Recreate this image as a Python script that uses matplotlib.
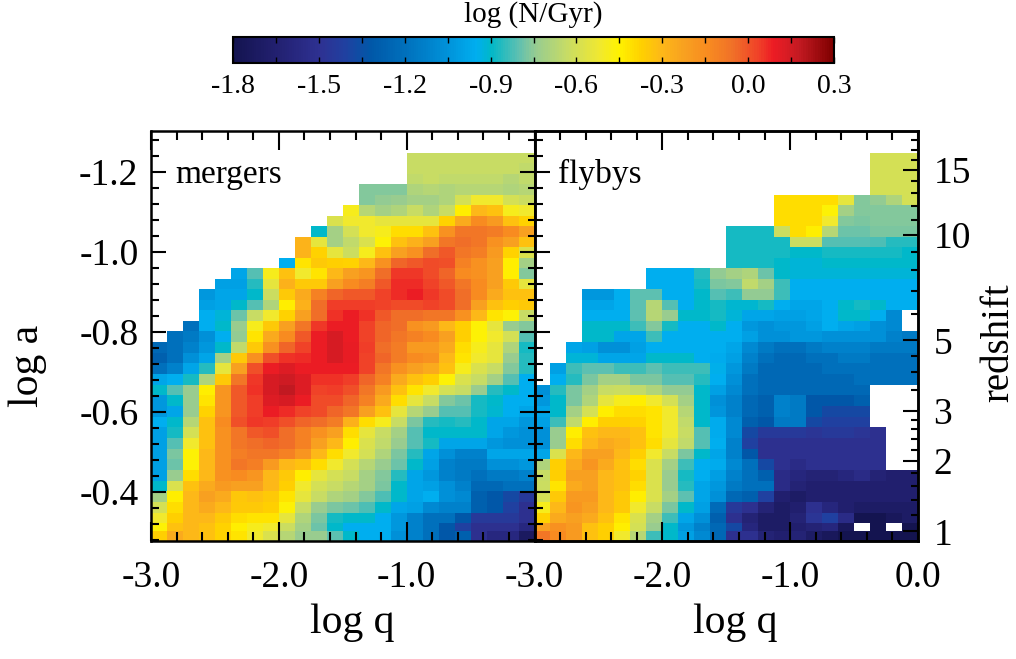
import numpy as np
import matplotlib
matplotlib.use("Agg")
import matplotlib.pyplot as plt
from matplotlib.colors import LinearSegmentedColormap
from matplotlib.ticker import MultipleLocator, FixedLocator, FormatStrFormatter

plt.rcParams['font.family'] = ['Liberation Serif', 'DejaVu Serif']
plt.rcParams['axes.unicode_minus'] = False

n = np.nan

# ---------------- data ----------------
q_edges = np.linspace(-3.0, 0.0, 25)          # log q bins (0.125 dex)
a_edges = [-1.2475, -1.2212, -1.1950, -1.1687, -1.1425, -1.1162, -1.0900, -1.0637,
           -1.0374, -1.0112, -0.9849, -0.9587, -0.9324, -0.9062, -0.8799, -0.8536,
           -0.8274, -0.8011, -0.7744, -0.7478, -0.7211, -0.6944, -0.6678, -0.6411,
           -0.6144, -0.5878, -0.5611, -0.5344, -0.5078, -0.4811, -0.4544, -0.4278,
           -0.4011, -0.3744, -0.3478, -0.3211, -0.3010, -0.2700]   # log a bins

# log(N/Gyr), rows from top (high z) to bottom (low z), columns log q = -3 .. 0
mergers = [
    [n]*16 + [-.63]*8,
    [n]*16 + [-.63, -.63, -.63, -.63, -.63, -.63, -.63, -.65],
    [n]*16 + [-.65, -.63, -.65, -.65, -.65, -.65, -.67, -.65],
    [n]*13 + [-.76, -.76, -.76, -.69, -.67, -.69, -.67, -.67, -.67, -.69, -.67],
    [n]*13 + [-.76, -.745, -.74, -.71, -.71, -.69, -.60, -.52, -.52, -.60, -.62],
    [n]*12 + [-.49, -.67, -.71, -.69, -.63, -.69, -.63, -.44, -.30, -.33, -.49, -.52],
    [n]*11 + [-.58, -.52, -.52, -.55, -.55, -.55, -.55, -.38, -.25, -.14, -.20, -.33, -.38],
    [n]*10 + [-.90, -.71, -.60, -.52, -.49, -.40, -.40, -.33, -.16, -.07, -.07, -.09, -.14, -.22],
    [n]*9 + [-.29, -.55, -.71, -.65, -.58, -.46, -.33, -.28, -.22, -.07, -.05, -.07, -.16, -.22, -.33],
    [n]*9 + [-.29, -.38, -.55, -.62, -.49, -.33, -.22, -.16, -.05, -.01, -.07, -.10, -.20, -.38, -.58],
    [n]*8 + [-.95, -.42, -.35, -.37, -.38, -.30, -.16, -.03, -.01, .02, .01, -.11, -.16, -.22, -.44, -.71],
    [n]*5 + [-.98, -.81, -.49, -.33, -.52, -.42, -.30, -.22, -.18, -.05, .05, .05, .02, -.03, -.14, -.16, -.22, -.44, -.76],
    [n]*4 + [-1.00, -1.00, -.86, -.55, -.28, -.35, -.35, -.22, -.14, -.10, -.01, .07, .07, .03, -.01, -.07, -.14, -.22, -.35, -.55],
    [n]*3 + [-1.03, -.98, -.98, -.90, -.62, -.35, -.25, -.11, -.03, -.01, -.01, .03, .07, .09, .05, .02, -.05, -.14, -.25, -.33, -.33],
    [n]*3 + [-1.00, -.98, -.90, -.81, -.69, -.44, -.28, -.05, .04, .04, .04, .03, .02, .02, .03, .02, -.05, -.22, -.33, -.37, -.35],
    [n]*3 + [-.95, -.92, -.79, -.63, -.52, -.38, -.22, -.05, .06, .09, .06, -.01, -.05, -.05, -.07, -.07, -.16, -.30, -.42, -.46, -.63],
    [n]*2 + [-1.20, -.95, -.90, -.74, -.49, -.35, -.22, -.07, .05, .09, .09, .03, -.03, -.05, -.16, -.20, -.30, -.37, -.46, -.55, -.74, -.76],
    [n] + [-1.20, -1.16, -1.06, -.95, -.745, -.42, -.25, -.14, -.01, .09, .14, .09, .03, -.03, -.07, -.11, -.14, -.22, -.37, -.46, -.52, -.60, -.81],
    [-1.24, -1.20, -1.12, -1.03, -.90, -.65, -.35, -.16, -.03, .03, .09, .14, .10, .04, -.05, -.09, -.20, -.20, -.25, -.40, -.49, -.55, -.69, -.88],
    [-1.28, -1.20, -1.06, -.98, -.71, -.35, -.16, .01, .06, .07, .09, .14, .10, .03, -.03, -.09, -.14, -.16, -.30, -.42, -.52, -.55, -.74, -.86],
    [-1.20, -1.12, -.98, -.86, -.55, -.22, .01, .09, .12, .09, .09, .09, .09, .03, -.07, -.16, -.22, -.25, -.33, -.49, -.58, -.63, -.76, -.86],
    [-.98, -.95, -.88, -.69, -.35, -.07, .05, .14, .16, .12, .06, .06, .04, -.03, -.11, -.25, -.33, -.37, -.46, -.58, -.63, -.71, -.81, -.95],
    [-.90, -.81, -.74, -.44, -.18, -.01, .06, .14, .18, .12, .03, .04, .01, -.07, -.20, -.33, -.42, -.52, -.60, -.63, -.74, -.86, -.90, -.95],
    [-1.03, -.90, -.74, -.42, -.18, -.01, .04, .12, .14, .09, .02, .02, -.03, -.11, -.25, -.40, -.55, -.63, -.76, -.79, -.88, -.90, -.95, -.95],
    [-1.03, -.98, -.74, -.38, -.18, -.01, .04, .09, .07, .03, .02, -.03, -.07, -.22, -.33, -.55, -.67, -.74, -.81, -.81, -.88, -.91, -.95, -.98],
    [-.95, -.90, -.67, -.33, -.14, .01, .05, .04, .01, -.03, -.05, -.09, -.28, -.40, -.49, -.63, -.77, -.86, -.88, -.86, -.90, -.98, -.98, -1.03],
    [-1.00, -.88, -.60, -.33, -.16, -.07, -.01, .01, -.05, -.11, -.16, -.22, -.40, -.55, -.63, -.71, -.81, -.90, -.90, -.90, -.90, -.98, -1.03, -1.06],
    [-1.00, -.81, -.52, -.33, -.16, -.07, -.05, -.03, -.05, -.11, -.22, -.30, -.44, -.58, -.65, -.74, -.81, -.88, -.98, -.98, -.98, -1.03, -1.06, -1.06],
    [-1.00, -.77, -.46, -.30, -.16, -.10, -.07, -.07, -.11, -.18, -.30, -.40, -.52, -.60, -.69, -.77, -.86, -.98, -1.06, -1.12, -1.12, -.98, -.98, -.98],
    [-1.00, -.79, -.46, -.30, -.16, -.07, -.10, -.20, -.30, -.33, -.40, -.52, -.60, -.67, -.74, -.79, -.90, -1.00, -1.12, -1.16, -1.16, -1.06, -1.06, -1.03],
    [-1.00, -.74, -.40, -.30, -.16, -.14, -.18, -.30, -.35, -.44, -.55, -.60, -.63, -.71, -.76, -.86, -.98, -1.03, -1.12, -1.16, -1.20, -1.16, -1.16, -1.12],
    [-.90, -.58, -.33, -.25, -.20, -.22, -.22, -.30, -.37, -.52, -.60, -.63, -.67, -.71, -.77, -.90, -.98, -1.00, -1.06, -1.12, -1.24, -1.24, -1.20, -1.20],
    [-.71, -.44, -.30, -.22, -.25, -.34, -.33, -.35, -.42, -.55, -.63, -.69, -.71, -.76, -.82, -.90, -.98, -.95, -1.06, -1.09, -1.28, -1.32, -1.38, -1.45],
    [-.60, -.40, -.30, -.25, -.30, -.35, -.35, -.37, -.46, -.63, -.74, -.77, -.79, -.82, -.90, -.98, -1.00, -1.09, -1.12, -1.12, -1.28, -1.32, -1.41, -1.51],
    [-.52, -.37, -.30, -.30, -.35, -.40, -.42, -.42, -.55, -.69, -.77, -.88, -.90, -.90, -.95, -1.03, -1.12, -1.20, -1.20, -1.32, -1.45, -1.45, -1.45, -1.51],
    [-.46, -.33, -.30, -.33, -.38, -.44, -.49, -.52, -.62, -.71, -.79, -.90, -.95, -.95, -.95, -1.03, -1.12, -1.20, -1.32, -1.41, -1.51, -1.51, -1.51, -1.58],
    [-.37, -.25, -.30, -.33, -.38, -.42, -.52, -.58, -.67, -.74, -.74, -.80, -.90, -.95, -.95, -1.06, -1.12, -1.20, -1.32, -1.28, -1.51, -1.58, -1.58, -1.72],
]

flybys = [
    [n]*21 + [-.60]*3,
    [n]*21 + [-.60]*3,
    [n]*21 + [-.60]*3,
    [n]*21 + [-.60]*3,
    [n]*15 + [-.40, -.40, -.40, -.40, -.55, -.76, -.745, -.69, -.60],
    [n]*15 + [-.40, -.40, -.40, -.46, -.71, -.76, -.76, -.76, -.76],
    [n]*15 + [-.40, -.40, -.40, -.52, -.76, -.77, -.76, -.76, -.76],
    [n]*12 + [-.88, -.88, -.88, -.62, -.40, -.44, -.67, -.79, -.79, -.77, -.77, -.77],
    [n]*12 + [-.88, -.88, -.88, -.88, -.62, -.62, -.81, -.81, -.81, -.82, -.86, -.86],
    [n]*12 + [-.88, -.88, -.88, -.88, -.90, -.90, -.88, -.88, -.88, -.88, -.88, -.90],
    [n]*12 + [-.88, -.88, -.88, -.90, -.92, -.92, -.90, -.90, -.90, -.90, -.90, -.90],
    [n]*7 + [-.95, -.95, -.95, -.86, -.75, -.71, -.69, -.79, -.90, -.92, -.92, -.92, -.92, -.92, -.92, -.92, -.92],
    [n]*7 + [-.95, -.95, -.95, -.88, -.77, -.76, -.65, -.71, -.84, -.95, -.95, -.95, -.95, -.95, -.95, -.95, -.95],
    [n]*3 + [-1.03, -1.03, -.95, -.80, -.80, -.95, -.95, -.90, -.81, -.84, -.745, -.745, -.84, -.95, -.95, -.95, -.95, -.95, -.95, -.95, -.95],
    [n]*3 + [-.98, -.98, -.95, -.80, -.67, -.81, -.95, -.90, -.88, -.91, -.91, -.88, -.95, -.98, -.98, -.95, -.90, -.88, -.90, -.95, -.95],
    [n]*3 + [-.95, -.95, -.95, -.80, -.67, -.74, -.90, -.90, -.88, -.92, -.98, -.98, -1.00, -1.00, -.98, -.95, -.90, -.90, -.95, -1.09] + [n],
    [n]*3 + [-.90, -.90, -.90, -.84, -.76, -.88, -.95, -.95, -.90, -.95, -1.03, -1.06, -1.03, -1.03, -1.00, -.95, -.98, -1.00, -1.06, -1.09] + [n],
    [n]*3 + [-.90, -.90, -.98, -.98, -.84, -.95, -.95, -.95, -.95, -.95, -1.00, -1.06, -1.06, -1.03, -1.03, -1.06, -1.06, -1.06, -1.06, -1.12, -1.16],
    [n]*2 + [-.98, -1.00, -1.06, -1.06, -1.00, -.95, -.95, -.95, -.95, -.95, -.98, -1.09, -1.16, -1.20, -1.20, -1.16, -1.12, -1.12, -1.12, -1.16, -1.16, -1.16],
    [n]*2 + [-.92, -.92, -.98, -.98, -.98, -.90, -.90, -.90, -.95, -.96, -1.00, -1.12, -1.20, -1.24, -1.24, -1.20, -1.20, -1.16, -1.16, -1.20, -1.20, -1.20],
    [n] + [-1.00, -.84, -.80, -.80, -.84, -.84, -.80, -.84, -.84, -.84, -.94, -1.03, -1.16, -1.24, -1.24, -1.24, -1.24, -1.20, -1.20, -1.20, -1.20, -1.20, -1.20],
    [n] + [-.95, -.86, -.77, -.71, -.71, -.77, -.77, -.81, -.81, -.86, -.95, -1.06, -1.20, -1.24, -1.24, -1.24, -1.24, -1.24, -1.24, -1.20, -1.20, -1.20, -1.20],
    [-1.06, -.86, -.77, -.71, -.63, -.62, -.65, -.69, -.745, -.745, -.90, -1.00, -1.09, -1.20, -1.24, -1.24, -1.24, -1.24, -1.24, -1.24, -1.24] + [n]*3,
    [-1.03, -.90, -.77, -.69, -.55, -.49, -.44, -.52, -.60, -.71, -.90, -1.06, -1.12, -1.24, -1.28, -1.12, -1.16, -1.32, -1.32, -1.32, -1.28] + [n]*3,
    [-.98, -.90, -.71, -.60, -.44, -.40, -.40, -.42, -.52, -.67, -.90, -1.04, -1.12, -1.24, -1.28, -1.12, -1.16, -1.32, -1.38, -1.38, -1.38] + [n]*3,
    [-1.00, -.84, -.65, -.44, -.37, -.37, -.38, -.42, -.52, -.65, -.90, -.96, -1.09, -1.28, -1.32, -1.16, -1.16, -1.38, -1.41, -1.41, -1.41] + [n]*3,
    [-1.06, -.74, -.44, -.33, -.30, -.30, -.33, -.42, -.52, -.63, -.81, -.96, -1.09, -1.38, -1.45, -1.45, -1.45, -1.48, -1.45, -1.45, -1.48, -1.51] + [n]*2,
    [-1.06, -.74, -.40, -.30, -.25, -.28, -.33, -.40, -.55, -.65, -.81, -.95, -1.12, -1.41, -1.51, -1.51, -1.51, -1.51, -1.51, -1.51, -1.51, -1.51] + [n]*2,
    [-.98, -.58, -.30, -.22, -.22, -.30, -.37, -.52, -.63, -.77, -.90, -.98, -1.12, -1.32, -1.51, -1.51, -1.51, -1.51, -1.51, -1.51, -1.51, -1.51] + [n]*2,
    [-.69, -.37, -.25, -.18, -.25, -.33, -.40, -.58, -.71, -.84, -.95, -.96, -1.09, -1.20, -1.38, -1.51, -1.55, -1.51, -1.51, -1.51, -1.51, -1.51] + [n]*2,
    [-.63, -.37, -.22, -.22, -.30, -.33, -.38, -.58, -.74, -.88, -.95, -1.01, -1.12, -1.20, -1.28, -1.55, -1.59, -1.62, -1.62, -1.59, -1.55, -1.62, -1.66, -1.66],
    [-.62, -.42, -.25, -.22, -.30, -.33, -.40, -.58, -.74, -.86, -.98, -1.03, -1.16, -1.20, -1.20, -1.55, -1.62, -1.66, -1.66, -1.66, -1.66, -1.66, -1.66, -1.66],
    [-.60, -.35, -.20, -.20, -.30, -.35, -.44, -.58, -.71, -.80, -.98, -1.06, -1.24, -1.28, -1.41, -1.66, -1.70, -1.66, -1.66, -1.66, -1.66, -1.66, -1.66, -1.66],
    [-.49, -.30, -.18, -.22, -.30, -.35, -.52, -.63, -.77, -.90, -1.00, -1.22, -1.45, -1.51, -1.62, -1.70, -1.66, -1.51, -1.59, -1.66, -1.70, -1.70, -1.70, -1.70],
    [-.38, -.25, -.22, -.25, -.33, -.42, -.58, -.71, -.84, -.98, -1.06, -1.28, -1.51, -1.62, -1.70, -1.70, -1.62, -1.48, -1.41, -1.55, -1.80, -1.80, -1.75, -1.70],
    [-.22, -.16, -.20, -.33, -.37, -.44, -.60, -.74, -.90, -1.03, -1.12, -1.24, -1.38, -1.59, -1.70, -1.70, -1.66, -1.62, -1.59, -1.75, n, -1.80, n, -1.80],
    [-.07, -.14, -.20, -.33, -.37, -.52, -.67, -.84, -.90, -1.00, -1.09, -1.24, -1.51, -1.51, -1.62, -1.66, -1.62, -1.70, -1.75, -1.80, -1.80, -1.80, -1.80, -1.80],
]

q_ticks_left = [-3.0, -2.0, -1.0]
q_ticks_right = [-3.0, -2.0, -1.0, 0.0]
loga_ticks = [-1.2, -1.0, -0.8, -0.6, -0.4]
z_major = [1, 2, 3, 5, 10, 15]
z_minor = [1.2, 1.4, 1.6, 1.8, 2.2, 2.4, 2.6, 2.8, 3.5, 4, 4.5, 6, 7, 8, 9,
           11, 12, 13, 14, 16, 17, 18]
cbar_ticks = [-1.8, -1.5, -1.2, -0.9, -0.6, -0.3, 0.0, 0.3]
vmin, vmax = -1.8, 0.3

cmap_values = [-1.80, -1.65, -1.50, -1.41, -1.32, -1.20, -1.06, -0.95, -0.90, -0.80,
               -0.74, -0.63, -0.52, -0.45, -0.37, -0.30, -0.22, -0.14, -0.05, 0.04,
               0.09, 0.13, 0.18, 0.30]
cmap_colors = ['#141450', '#222070', '#2e3192', '#2040a0', '#0058a8', '#0070bc',
               '#0090d8', '#00aeef', '#00b8c8', '#60c0b0', '#98cc90', '#c8dc64',
               '#f0e830', '#fff200', '#ffd000', '#fdb818', '#f8a020', '#f88c20',
               '#f07028', '#f04028', '#ed1c24', '#dc1c24', '#c41a22', '#7f0000']

cmap = LinearSegmentedColormap.from_list(
    'nyr', [((v - vmin) / (vmax - vmin), c) for v, c in zip(cmap_values, cmap_colors)])

# ---------------- figure ----------------
W, H = 1016, 659
fig = plt.figure(figsize=(W / 100, H / 100), dpi=100)


def box(x0, y0, x1, y1):
    return [x0 / W, 1 - y1 / H, (x1 - x0) / W, (y1 - y0) / H]


ax1 = fig.add_axes(box(151, 131, 534.5, 541.3))
ax2 = fig.add_axes(box(534.5, 131, 918, 541.3))
cax = fig.add_axes(box(233, 37, 834, 63))

ylim = (-0.276, -1.302)
lw_spine = 1.8
mesh = None
for ax, grid, qt in ((ax1, mergers, q_ticks_left), (ax2, flybys, q_ticks_right)):
    data = np.ma.masked_invalid(np.array(grid, dtype=float))
    mesh = ax.pcolormesh(q_edges, a_edges, data, cmap=cmap, vmin=vmin, vmax=vmax,
                         shading='flat', edgecolors='none', antialiased=False,
                         linewidth=0)
    ax.set_xlim(-3.0, 0.0)
    ax.set_ylim(*ylim)
    ax.xaxis.set_major_locator(FixedLocator(qt))
    ax.xaxis.set_minor_locator(MultipleLocator(0.2))
    ax.xaxis.set_major_formatter(FormatStrFormatter('%.1f'))
    ax.yaxis.set_major_locator(FixedLocator(loga_ticks))
    ax.yaxis.set_minor_locator(MultipleLocator(0.04))
    ax.yaxis.set_major_formatter(FormatStrFormatter('%.1f'))
    ax.tick_params(axis='both', which='both', direction='in', top=True, width=1.5,
                   labelsize=27, colors='black')
    ax.tick_params(axis='x', which='major', length=13.5, pad=14)
    ax.tick_params(axis='x', which='minor', length=6.7)
    ax.tick_params(axis='y', which='major', length=10.8, pad=9)
    ax.tick_params(axis='y', which='minor', length=5.4)
    for s in ax.spines.values():
        s.set_linewidth(lw_spine)

ax1.tick_params(axis='y', which='both', left=True, right=True, labelright=False)
ax2.tick_params(axis='y', which='both', left=True, right=False, labelleft=False)

ax1.text(0.063, 0.874, 'mergers', transform=ax1.transAxes, fontsize=24, va='baseline')
ax2.text(0.062, 0.874, 'flybys', transform=ax2.transAxes, fontsize=24, va='baseline')

# redshift axis
axz = ax2.twinx()
axz.set_ylim(*ylim)
axz.yaxis.set_major_locator(FixedLocator([-np.log10(1 + z) for z in z_major]))
axz.yaxis.set_minor_locator(FixedLocator([-np.log10(1 + z) for z in z_minor]))
axz.set_yticklabels([str(z) for z in z_major])
axz.tick_params(axis='y', which='both', direction='in', width=1.5, labelsize=27, pad=11)
axz.tick_params(axis='y', which='major', length=10.8)
axz.tick_params(axis='y', which='minor', length=5.4)
for s in axz.spines.values():
    s.set_linewidth(lw_spine)

# axis labels
fig.text(28 / W, 1 - 366 / H, 'log a', rotation=90, ha='center', va='center', fontsize=30)
fig.text(352 / W, 1 - 623 / H, 'log q', ha='center', va='center', fontsize=30)
fig.text(735 / W, 1 - 623 / H, 'log q', ha='center', va='center', fontsize=30)
fig.text(999 / W, 1 - 343 / H, 'redshift', rotation=90, ha='center', va='center', fontsize=28)

# colorbar
cb = fig.colorbar(mesh, cax=cax, orientation='horizontal')
cb.set_ticks(cbar_ticks)
cb.ax.xaxis.set_major_formatter(FormatStrFormatter('%.1f'))
cb.ax.xaxis.set_minor_locator(MultipleLocator(0.15))
cb.ax.tick_params(axis='x', which='both', direction='in', top=True, bottom=True,
                  length=4, width=1.0, labelsize=20, pad=8)
cb.outline.set_linewidth(1.5)
fig.text(533 / W, 1 - 15 / H, 'log (N/Gyr)', ha='center', va='center', fontsize=21)

fig.savefig('out.png', dpi=100)
